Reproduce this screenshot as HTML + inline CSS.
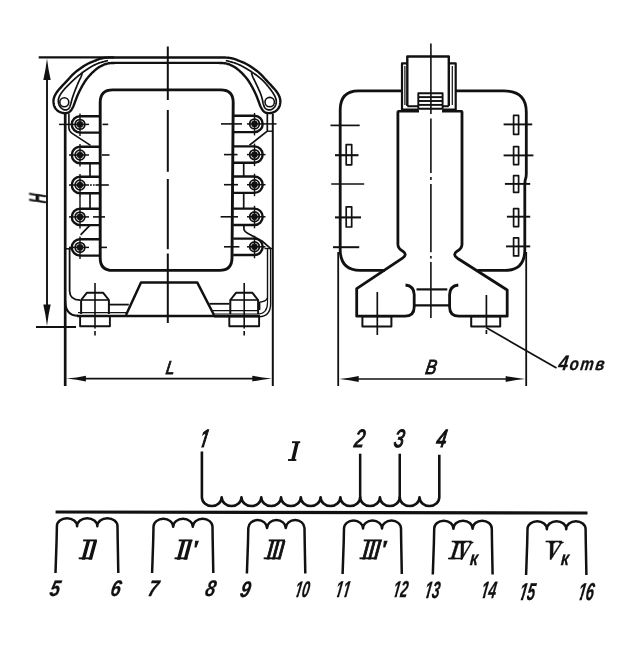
<!DOCTYPE html>
<html lang="ru">
<head>
<meta charset="utf-8">
<title>Трансформатор — габаритный чертёж и схема обмоток</title>
<style>
html,body{margin:0;padding:0;background:#fff;}
body{width:640px;height:645px;overflow:hidden;}
svg{display:block;}
svg text{-webkit-font-smoothing:antialiased;text-rendering:geometricPrecision;}
#txt{opacity:0.999;}
svg line, svg path, svg rect, svg circle{stroke:#111;fill:none;stroke-linecap:butt;stroke-linejoin:round;}
</style>
</head>
<body>
<svg width="640" height="645" viewBox="0 0 640 645">
<rect x="0" y="0" width="640" height="645" style="fill:#fff;stroke:none"/>
<g id="front">
<line x1="167.8" y1="46.5" x2="167.8" y2="100" stroke-width="2.0" />
<line x1="167.8" y1="110" x2="167.8" y2="171.8" stroke-width="2.0" />
<line x1="167.8" y1="179" x2="167.8" y2="249.2" stroke-width="2.0" />
<line x1="167.8" y1="253.5" x2="167.8" y2="323" stroke-width="2.0" />
<line x1="38.7" y1="57.4" x2="114" y2="57.4" stroke-width="2.4" />
<line x1="36" y1="327" x2="76" y2="327" stroke-width="2.0" />
<line x1="47" y1="70" x2="47" y2="314" stroke-width="1.9" />
<path d="M 47,58.4 Q 48.41,70.22 50.7,79.9 L 43.3,79.9 Q 45.59,70.22 47,58.4 Z" style="fill:#111;stroke:none"/>
<path d="M 47,326 Q 45.59,314.18 43.3,304.5 L 50.7,304.5 Q 48.41,314.18 47,326 Z" style="fill:#111;stroke:none"/>
<line x1="65.2" y1="113" x2="65.2" y2="386" stroke-width="2.7" />
<line x1="272.8" y1="113.5" x2="272.8" y2="386" stroke-width="2.0" />
<line x1="80" y1="378.6" x2="258" y2="378.6" stroke-width="1.7" />
<path d="M 66.4,378.6 Q 77.12,377.5 85.9,375.7 L 85.9,381.5 Q 77.12,379.7 66.4,378.6 Z" style="fill:#111;stroke:none"/>
<path d="M 271.8,378.6 Q 261.07,379.7 252.3,381.5 L 252.3,375.7 Q 261.07,377.5 271.8,378.6 Z" style="fill:#111;stroke:none"/>
<path d="M 125,57.5 L 124.13,57.5 L 122.95,57.5 L 121.55,57.49 L 120,57.49 L 118.39,57.49 L 116.8,57.49 L 115.31,57.49 L 114,57.5 L 112.84,57.51 L 111.73,57.52 L 110.67,57.53 L 109.66,57.54 L 108.69,57.56 L 107.75,57.59 L 106.86,57.64 L 106,57.7 L 105.2,57.78 L 104.46,57.87 L 103.78,57.96 L 103.12,58.08 L 102.49,58.2 L 101.85,58.35 L 101.19,58.51 L 100.5,58.7 L 99.78,58.91 L 99.06,59.14 L 98.33,59.4 L 97.6,59.67 L 96.85,59.96 L 96.09,60.26 L 95.31,60.57 L 94.5,60.9 L 93.66,61.24 L 92.8,61.58 L 91.91,61.94 L 91.01,62.31 L 90.1,62.7 L 89.19,63.11 L 88.29,63.54 L 87.4,64 L 86.52,64.48 L 85.64,64.99 L 84.76,65.51 L 83.89,66.06 L 83.01,66.62 L 82.14,67.2 L 81.27,67.79 L 80.4,68.4 L 79.53,69.02 L 78.65,69.65 L 77.77,70.3 L 76.89,70.96 L 76.02,71.64 L 75.17,72.34 L 74.32,73.06 L 73.5,73.8 L 72.69,74.57 L 71.9,75.39 L 71.12,76.23 L 70.36,77.08 L 69.6,77.94 L 68.86,78.79 L 68.12,79.61 L 67.4,80.4 L 66.69,81.15 L 65.99,81.88 L 65.31,82.59 L 64.63,83.29 L 63.96,83.99 L 63.31,84.68 L 62.65,85.38 L 62,86.1 L 61.34,86.83 L 60.67,87.58 L 60,88.33 L 59.34,89.08 L 58.7,89.83 L 58.09,90.57 L 57.52,91.29 L 57,92 L 56.53,92.69 L 56.1,93.36 L 55.7,94.02 L 55.33,94.67 L 55,95.31 L 54.7,95.94 L 54.43,96.57 L 54.2,97.2 L 54,97.81 L 53.83,98.41 L 53.69,99 L 53.59,99.58 L 53.52,100.17 L 53.48,100.76 L 53.47,101.37 L 53.5,102 L 53.56,102.66 L 53.64,103.36 L 53.75,104.07 L 53.9,104.79 L 54.08,105.51 L 54.31,106.21 L 54.58,106.87 L 54.9,107.5 L 55.27,108.1 L 55.7,108.68 L 56.18,109.25 L 56.69,109.8 L 57.24,110.31 L 57.81,110.79 L 58.4,111.22 L 59,111.6 L 59.63,111.93 L 60.29,112.22 L 60.99,112.47 L 61.71,112.67 L 62.43,112.84 L 63.14,112.97 L 63.84,113.05 L 64.5,113.1 L 65.14,113.11 L 65.78,113.09 L 66.41,113.03 L 67.03,112.92 L 67.63,112.78 L 68.21,112.57 L 68.77,112.32 L 69.3,112 L 69.8,111.62 L 70.27,111.17 L 70.72,110.67 L 71.15,110.11 L 71.57,109.51 L 71.97,108.87 L 72.36,108.2 L 72.75,107.5 L 73.13,106.75 L 73.49,105.94 L 73.83,105.09 L 74.17,104.2 L 74.5,103.29 L 74.83,102.38 L 75.16,101.48 L 75.5,100.6 L 75.84,99.74 L 76.17,98.88 L 76.5,98.03 L 76.83,97.17 L 77.17,96.32 L 77.51,95.46 L 77.87,94.61 L 78.25,93.75 L 78.65,92.89 L 79.06,92.02 L 79.48,91.16 L 79.91,90.29 L 80.35,89.43 L 80.8,88.57 L 81.25,87.73 L 81.7,86.9 L 82.16,86.07 L 82.64,85.23 L 83.13,84.39 L 83.63,83.56 L 84.12,82.76 L 84.6,81.99 L 85.06,81.26 L 85.5,80.6 L 85.91,80.01 L 86.28,79.49 L 86.64,79.02 L 86.98,78.58 L 87.33,78.16 L 87.69,77.73 L 88.08,77.29 L 88.5,76.8 L 88.95,76.28 L 89.42,75.74 L 89.91,75.19 L 90.41,74.64 L 90.93,74.08 L 91.47,73.51 L 92.03,72.95 L 92.6,72.4 L 93.2,71.84 L 93.82,71.27 L 94.46,70.69 L 95.11,70.11 L 95.78,69.55 L 96.45,69 L 97.13,68.48 L 97.8,68 L 98.47,67.55 L 99.15,67.12 L 99.84,66.72 L 100.53,66.33 L 101.22,65.97 L 101.92,65.63 L 102.61,65.3 L 103.3,65 L 103.98,64.72 L 104.64,64.45 L 105.29,64.21 L 105.94,63.99 L 106.61,63.79 L 107.31,63.6 L 108.03,63.44 L 108.8,63.3 L 109.61,63.19 L 110.44,63.1 L 111.3,63.04 L 112.18,62.99 L 113.09,62.96 L 114.03,62.94 L 115,62.92 L 116,62.9 L 117.1,62.88 L 118.33,62.87 L 119.64,62.87 L 120.95,62.88 L 122.21,62.88 L 123.34,62.89 L 124.29,62.9 L 125,62.9 M 125,57.5 H 167.8 M 125,62.9 H 167.8" stroke-width="2.4" />
<path d="M 208.8,57.5 L 209.67,57.5 L 210.85,57.5 L 212.25,57.49 L 213.8,57.49 L 215.41,57.49 L 217,57.49 L 218.49,57.49 L 219.8,57.5 L 220.96,57.51 L 222.07,57.52 L 223.13,57.53 L 224.14,57.54 L 225.11,57.56 L 226.05,57.59 L 226.94,57.64 L 227.8,57.7 L 228.6,57.78 L 229.34,57.87 L 230.02,57.96 L 230.68,58.08 L 231.31,58.2 L 231.95,58.35 L 232.61,58.51 L 233.3,58.7 L 234.02,58.91 L 234.74,59.14 L 235.47,59.4 L 236.2,59.67 L 236.95,59.96 L 237.71,60.26 L 238.49,60.57 L 239.3,60.9 L 240.14,61.24 L 241,61.58 L 241.89,61.94 L 242.79,62.31 L 243.7,62.7 L 244.61,63.11 L 245.51,63.54 L 246.4,64 L 247.28,64.48 L 248.16,64.99 L 249.04,65.51 L 249.91,66.06 L 250.79,66.62 L 251.66,67.2 L 252.53,67.79 L 253.4,68.4 L 254.27,69.02 L 255.15,69.65 L 256.03,70.3 L 256.91,70.96 L 257.78,71.64 L 258.63,72.34 L 259.48,73.06 L 260.3,73.8 L 261.11,74.57 L 261.9,75.39 L 262.68,76.23 L 263.44,77.08 L 264.2,77.94 L 264.94,78.79 L 265.68,79.61 L 266.4,80.4 L 267.11,81.15 L 267.81,81.88 L 268.49,82.59 L 269.17,83.29 L 269.84,83.99 L 270.49,84.68 L 271.15,85.38 L 271.8,86.1 L 272.46,86.83 L 273.13,87.58 L 273.8,88.33 L 274.46,89.08 L 275.1,89.83 L 275.71,90.57 L 276.28,91.29 L 276.8,92 L 277.27,92.69 L 277.7,93.36 L 278.1,94.02 L 278.47,94.67 L 278.8,95.31 L 279.1,95.94 L 279.37,96.57 L 279.6,97.2 L 279.8,97.81 L 279.97,98.41 L 280.11,99 L 280.21,99.58 L 280.28,100.17 L 280.32,100.76 L 280.33,101.37 L 280.3,102 L 280.24,102.66 L 280.16,103.36 L 280.05,104.07 L 279.9,104.79 L 279.72,105.51 L 279.49,106.21 L 279.22,106.87 L 278.9,107.5 L 278.53,108.1 L 278.1,108.68 L 277.62,109.25 L 277.11,109.8 L 276.56,110.31 L 275.99,110.79 L 275.4,111.22 L 274.8,111.6 L 274.17,111.93 L 273.51,112.22 L 272.81,112.47 L 272.09,112.67 L 271.37,112.84 L 270.66,112.97 L 269.96,113.05 L 269.3,113.1 L 268.66,113.11 L 268.02,113.09 L 267.39,113.03 L 266.77,112.92 L 266.17,112.78 L 265.59,112.57 L 265.03,112.32 L 264.5,112 L 264,111.62 L 263.53,111.17 L 263.08,110.67 L 262.65,110.11 L 262.23,109.51 L 261.83,108.87 L 261.44,108.2 L 261.05,107.5 L 260.67,106.75 L 260.31,105.94 L 259.97,105.09 L 259.63,104.2 L 259.3,103.29 L 258.97,102.38 L 258.64,101.48 L 258.3,100.6 L 257.96,99.74 L 257.63,98.88 L 257.3,98.03 L 256.97,97.17 L 256.63,96.32 L 256.29,95.46 L 255.93,94.61 L 255.55,93.75 L 255.15,92.89 L 254.74,92.02 L 254.32,91.16 L 253.89,90.29 L 253.45,89.43 L 253,88.57 L 252.55,87.73 L 252.1,86.9 L 251.64,86.07 L 251.16,85.23 L 250.67,84.39 L 250.17,83.56 L 249.68,82.76 L 249.2,81.99 L 248.74,81.26 L 248.3,80.6 L 247.89,80.01 L 247.52,79.49 L 247.16,79.02 L 246.82,78.58 L 246.47,78.16 L 246.11,77.73 L 245.72,77.29 L 245.3,76.8 L 244.85,76.28 L 244.38,75.74 L 243.89,75.19 L 243.39,74.64 L 242.87,74.08 L 242.33,73.51 L 241.77,72.95 L 241.2,72.4 L 240.6,71.84 L 239.98,71.27 L 239.34,70.69 L 238.69,70.11 L 238.02,69.55 L 237.35,69 L 236.67,68.48 L 236,68 L 235.33,67.55 L 234.65,67.12 L 233.96,66.72 L 233.27,66.33 L 232.58,65.97 L 231.88,65.63 L 231.19,65.3 L 230.5,65 L 229.82,64.72 L 229.16,64.45 L 228.51,64.21 L 227.86,63.99 L 227.19,63.79 L 226.49,63.6 L 225.77,63.44 L 225,63.3 L 224.19,63.19 L 223.36,63.1 L 222.5,63.04 L 221.62,62.99 L 220.71,62.96 L 219.77,62.94 L 218.8,62.92 L 217.8,62.9 L 216.7,62.88 L 215.47,62.87 L 214.16,62.87 L 212.85,62.88 L 211.59,62.88 L 210.46,62.89 L 209.51,62.9 L 208.8,62.9 M 208.8,57.5 H 167.8 M 208.8,62.9 H 167.8" stroke-width="2.4" />
<path d="M 108,60.6 L 107.66,60.68 L 107.23,60.78 L 106.72,60.89 L 106.14,61.02 L 105.51,61.17 L 104.85,61.34 L 104.17,61.51 L 103.5,61.7 L 102.81,61.9 L 102.09,62.1 L 101.33,62.32 L 100.55,62.55 L 99.75,62.8 L 98.94,63.07 L 98.12,63.37 L 97.3,63.7 L 96.47,64.06 L 95.61,64.46 L 94.73,64.88 L 93.84,65.32 L 92.96,65.78 L 92.09,66.25 L 91.23,66.72 L 90.4,67.2 L 89.6,67.68 L 88.8,68.18 L 88.03,68.69 L 87.26,69.21 L 86.51,69.74 L 85.76,70.26 L 85.03,70.78 L 84.3,71.3 L 83.58,71.81 L 82.89,72.31 L 82.2,72.8 L 81.52,73.3 L 80.84,73.8 L 80.17,74.32 L 79.49,74.85 L 78.8,75.4 L 78.1,75.97 L 77.4,76.57 L 76.69,77.17 L 75.97,77.79 L 75.27,78.42 L 74.57,79.05 L 73.88,79.68 L 73.2,80.3 L 72.54,80.92 L 71.89,81.54 L 71.24,82.15 L 70.61,82.77 L 69.98,83.4 L 69.35,84.03 L 68.72,84.66 L 68.1,85.3 L 67.47,85.95 L 66.83,86.61 L 66.19,87.27 L 65.55,87.94 L 64.93,88.61 L 64.32,89.28 L 63.74,89.94 L 63.2,90.6 L 62.68,91.26 L 62.18,91.92 L 61.69,92.57 L 61.23,93.23 L 60.8,93.88 L 60.39,94.53 L 60.03,95.17 L 59.7,95.8 L 59.41,96.42 L 59.15,97.03 L 58.92,97.63 L 58.72,98.22 L 58.56,98.82 L 58.43,99.41 L 58.35,100 L 58.3,100.6 L 58.3,101.21 L 58.33,101.83 L 58.41,102.46 L 58.52,103.08 L 58.67,103.7 L 58.85,104.29 L 59.06,104.86 L 59.3,105.4 L 59.58,105.92 L 59.92,106.42 L 60.29,106.92 L 60.69,107.39 L 61.12,107.83 L 61.55,108.23 L 61.98,108.59 L 62.4,108.9 L 62.82,109.16 L 63.26,109.39 L 63.7,109.58 L 64.15,109.73 L 64.6,109.83 L 65.04,109.9 L 65.48,109.92 L 65.9,109.9 L 66.32,109.83 L 66.74,109.72 L 67.15,109.57 L 67.56,109.38 L 67.96,109.14 L 68.33,108.86 L 68.68,108.55 L 69,108.2 L 69.28,107.8 L 69.53,107.34 L 69.76,106.83 L 69.96,106.29 L 70.15,105.73 L 70.34,105.15 L 70.52,104.57 L 70.7,104 L 70.88,103.44 L 71.04,102.87 L 71.19,102.29 L 71.34,101.71 L 71.49,101.11 L 71.65,100.5 L 71.82,99.88 L 72,99.25 L 72.2,98.6 L 72.4,97.94 L 72.61,97.27 L 72.83,96.59 L 73.06,95.89 L 73.3,95.19 L 73.54,94.47 L 73.8,93.75 L 74.07,93.01 L 74.35,92.26 L 74.65,91.49 L 74.95,90.71 L 75.26,89.93 L 75.57,89.15 L 75.89,88.37 L 76.2,87.6 L 76.52,86.83 L 76.84,86.04 L 77.17,85.26 L 77.51,84.47 L 77.84,83.7 L 78.17,82.94 L 78.49,82.2 L 78.8,81.5 L 79.11,80.83 L 79.41,80.18 L 79.72,79.56 L 80.02,78.96 L 80.31,78.36 L 80.59,77.78 L 80.85,77.19 L 81.1,76.6 L 81.34,75.98 L 81.57,75.32 L 81.79,74.65 L 81.99,73.99 L 82.18,73.37 L 82.35,72.82 L 82.49,72.35 L 82.6,72" stroke-width="1.7" />
<path d="M 225.8,60.6 L 226.13,60.68 L 226.56,60.78 L 227.07,60.89 L 227.65,61.02 L 228.28,61.17 L 228.94,61.34 L 229.62,61.51 L 230.3,61.7 L 231,61.9 L 231.75,62.1 L 232.52,62.32 L 233.32,62.55 L 234.15,62.8 L 234.99,63.07 L 235.84,63.37 L 236.7,63.7 L 237.57,64.06 L 238.48,64.46 L 239.4,64.88 L 240.33,65.32 L 241.27,65.78 L 242.2,66.25 L 243.11,66.72 L 244,67.2 L 244.87,67.68 L 245.73,68.18 L 246.57,68.68 L 247.41,69.2 L 248.24,69.72 L 249.07,70.25 L 249.89,70.77 L 250.7,71.3 L 251.51,71.83 L 252.32,72.35 L 253.12,72.88 L 253.92,73.41 L 254.71,73.95 L 255.48,74.49 L 256.25,75.04 L 257,75.6 L 257.74,76.16 L 258.47,76.73 L 259.19,77.31 L 259.89,77.89 L 260.59,78.48 L 261.27,79.07 L 261.94,79.68 L 262.6,80.3 L 263.24,80.93 L 263.87,81.58 L 264.48,82.23 L 265.08,82.89 L 265.66,83.56 L 266.25,84.24 L 266.82,84.92 L 267.4,85.6 L 267.98,86.29 L 268.56,86.98 L 269.13,87.69 L 269.7,88.39 L 270.26,89.1 L 270.79,89.81 L 271.31,90.51 L 271.8,91.2 L 272.27,91.89 L 272.73,92.58 L 273.17,93.26 L 273.59,93.94 L 273.99,94.62 L 274.36,95.29 L 274.7,95.95 L 275,96.6 L 275.27,97.24 L 275.51,97.87 L 275.73,98.49 L 275.92,99.11 L 276.07,99.71 L 276.19,100.31 L 276.27,100.91 L 276.3,101.5 L 276.29,102.09 L 276.24,102.68 L 276.16,103.27 L 276.03,103.86 L 275.87,104.43 L 275.68,104.98 L 275.45,105.5 L 275.2,106 L 274.9,106.48 L 274.56,106.95 L 274.18,107.41 L 273.76,107.84 L 273.33,108.25 L 272.88,108.61 L 272.44,108.93 L 272,109.2 L 271.56,109.42 L 271.1,109.59 L 270.63,109.72 L 270.16,109.81 L 269.68,109.87 L 269.21,109.88 L 268.75,109.86 L 268.3,109.8 L 267.86,109.7 L 267.41,109.57 L 266.96,109.4 L 266.52,109.19 L 266.1,108.94 L 265.7,108.66 L 265.33,108.35 L 265,108 L 264.71,107.61 L 264.45,107.17 L 264.21,106.69 L 264.01,106.18 L 263.82,105.65 L 263.64,105.1 L 263.47,104.55 L 263.3,104 L 263.15,103.45 L 263.02,102.88 L 262.9,102.31 L 262.8,101.72 L 262.7,101.12 L 262.58,100.51 L 262.45,99.88 L 262.3,99.25 L 262.13,98.6 L 261.95,97.95 L 261.76,97.28 L 261.56,96.6 L 261.35,95.91 L 261.12,95.2 L 260.87,94.48 L 260.6,93.75 L 260.3,92.99 L 259.98,92.21 L 259.63,91.41 L 259.27,90.6 L 258.9,89.79 L 258.53,88.98 L 258.16,88.18 L 257.8,87.4 L 257.45,86.63 L 257.09,85.87 L 256.73,85.11 L 256.37,84.36 L 256.01,83.62 L 255.66,82.89 L 255.33,82.19 L 255,81.5 L 254.68,80.83 L 254.37,80.19 L 254.06,79.56 L 253.76,78.94 L 253.47,78.34 L 253.19,77.75 L 252.94,77.17 L 252.7,76.6 L 252.48,76.01 L 252.27,75.4 L 252.08,74.79 L 251.91,74.19 L 251.75,73.64 L 251.61,73.14 L 251.49,72.72 L 251.4,72.4" stroke-width="1.7" />
<circle cx="64.3" cy="102.2" r="4.5" stroke-width="1.6" />
<circle cx="269.7" cy="102.1" r="4.7" stroke-width="1.6" />
<path d="M 68.9,113.5 V 128 Q 69.2,131.6 72.5,133.6 L 90.5,145.4" stroke-width="1.6" />
<path d="M 69.6,248.8 V 291 Q 69.8,300 80,300.2" stroke-width="1.8" />
<line x1="66" y1="248.8" x2="72" y2="248.8" stroke-width="1.5" />
<path d="M 65.2,301 Q 65.4,315.6 78,315.8" stroke-width="2.0" />
<line x1="78" y1="312.6" x2="126" y2="312.6" stroke-width="1.1" />
<line x1="109" y1="304.6" x2="128.8" y2="304.6" stroke-width="1.8" />
<path d="M 267.3,113.5 V 131.2 L 249.5,145.2" stroke-width="1.7" />
<line x1="267.3" y1="131.2" x2="273" y2="131.2" stroke-width="1.4" />
<path d="M 267.5,248.5 V 299" stroke-width="1.4" />
<path d="M 270.6,248.5 V 304 Q 270.4,316.6 259,316.8 H 214" stroke-width="1.4" />
<path d="M 267.5,299 V 303 Q 267.3,313.8 258,314 H 214" stroke-width="1.2" />
<path d="M 267.5,298 Q 266,301.6 259.7,302.2 V 310" stroke-width="1.4" />
<line x1="264.5" y1="248.5" x2="272.8" y2="248.5" stroke-width="1.4" />
<line x1="209.4" y1="303.8" x2="229.5" y2="303.8" stroke-width="1.8" />
<line x1="213" y1="310.6" x2="258" y2="310.6" stroke-width="1.3" />
<path d="M 112.7,89.9 H 220.7 Q 233.2,89.9 233.2,102.4 L 232.0,258 Q 231.9,270.4 219.5,270.4 H 112.7 Q 100.2,270.4 100.2,257.9 V 102.4 Q 100.2,89.9 112.7,89.9 Z" stroke-width="2.9" />
<line x1="77" y1="315.9" x2="260" y2="315.9" stroke-width="2.5" />
<path d="M 126,315 L 141,282.4 H 197.2 L 214,315" stroke-width="2.5" />
<path d="M 100.2,116.2 H 80 A 8.2,8.2 0 0 0 80,132.6 H 100.2" stroke-width="2.4" />
<circle cx="80" cy="124.4" r="4.8" stroke-width="1.8" />
<circle cx="80" cy="124.4" r="3.1" stroke-width="0.5" style="fill:#111"/>
<line x1="80" y1="113.4" x2="80" y2="135.9" stroke-width="1.4" />
<line x1="59" y1="124.4" x2="89" y2="124.4" stroke-width="1.5" />
<line x1="102.5" y1="124.4" x2="108.2" y2="124.4" stroke-width="1.6" />
<path d="M 233.2,115.7 H 254.5 A 8.2,8.2 0 0 1 254.5,132.1 H 233.2" stroke-width="2.4" />
<circle cx="254.5" cy="123.9" r="4.8" stroke-width="1.8" />
<circle cx="254.5" cy="123.9" r="3.1" stroke-width="0.5" style="fill:#111"/>
<line x1="254.5" y1="112.9" x2="254.5" y2="135.4" stroke-width="1.4" />
<line x1="276.5" y1="123.9" x2="247" y2="123.9" stroke-width="1.5" />
<line x1="221" y1="123.9" x2="242" y2="123.9" stroke-width="1.6" />
<path d="M 100.2,146.8 H 80 A 8.2,8.2 0 0 0 80,163.2 H 100.2" stroke-width="2.4" />
<circle cx="80" cy="155" r="4.8" stroke-width="1.8" />
<circle cx="80" cy="155" r="3.1" stroke-width="0.5" style="fill:#111"/>
<line x1="80" y1="144" x2="80" y2="166.5" stroke-width="1.4" />
<line x1="69" y1="155" x2="89" y2="155" stroke-width="1.5" />
<line x1="102" y1="155" x2="109.5" y2="155" stroke-width="1.6" />
<path d="M 233.2,146.4 H 254.5 A 8.2,8.2 0 0 1 254.5,162.8 H 233.2" stroke-width="2.4" />
<circle cx="254.5" cy="154.6" r="4.8" stroke-width="1.8" />
<circle cx="254.5" cy="154.6" r="3.1" stroke-width="0.5" style="fill:#111"/>
<line x1="254.5" y1="143.6" x2="254.5" y2="166.1" stroke-width="1.4" />
<line x1="265.5" y1="154.6" x2="247" y2="154.6" stroke-width="1.5" />
<line x1="224" y1="154.6" x2="237.5" y2="154.6" stroke-width="1.6" />
<path d="M 100.2,176.8 H 80 A 8.2,8.2 0 0 0 80,193.2 H 100.2" stroke-width="2.4" />
<circle cx="80" cy="185" r="4.8" stroke-width="1.8" />
<circle cx="80" cy="185" r="3.1" stroke-width="0.5" style="fill:#111"/>
<line x1="80" y1="174" x2="80" y2="196.5" stroke-width="1.4" />
<line x1="69" y1="185" x2="89" y2="185" stroke-width="1.5" />
<line x1="90" y1="185" x2="91.8" y2="185" stroke-width="1.4" />
<line x1="93" y1="185" x2="94.6" y2="185" stroke-width="1.4" />
<line x1="95.5" y1="185" x2="108.8" y2="185" stroke-width="1.6" />
<path d="M 233.2,176.5 H 254.5 A 8.2,8.2 0 0 1 254.5,192.9 H 233.2" stroke-width="2.4" />
<circle cx="254.5" cy="184.7" r="4.8" stroke-width="1.8" />
<circle cx="254.5" cy="184.7" r="3.1" stroke-width="0.5" style="fill:#111"/>
<line x1="254.5" y1="173.7" x2="254.5" y2="196.2" stroke-width="1.4" />
<line x1="265.5" y1="184.7" x2="247" y2="184.7" stroke-width="1.5" />
<line x1="224" y1="184.7" x2="238" y2="184.7" stroke-width="1.6" />
<path d="M 100.2,208.7 H 80 A 8.2,8.2 0 0 0 80,225.1 H 100.2" stroke-width="2.4" />
<circle cx="80" cy="216.9" r="4.8" stroke-width="1.8" />
<circle cx="80" cy="216.9" r="3.1" stroke-width="0.5" style="fill:#111"/>
<line x1="80" y1="205.9" x2="80" y2="228.4" stroke-width="1.4" />
<line x1="69" y1="216.9" x2="89" y2="216.9" stroke-width="1.5" />
<line x1="93" y1="216.9" x2="105" y2="216.9" stroke-width="1.6" />
<path d="M 233.2,208.6 H 254.5 A 8.2,8.2 0 0 1 254.5,225 H 233.2" stroke-width="2.4" />
<circle cx="254.5" cy="216.8" r="4.8" stroke-width="1.8" />
<circle cx="254.5" cy="216.8" r="3.1" stroke-width="0.5" style="fill:#111"/>
<line x1="254.5" y1="205.8" x2="254.5" y2="228.3" stroke-width="1.4" />
<line x1="265.5" y1="216.8" x2="247" y2="216.8" stroke-width="1.5" />
<line x1="220.6" y1="216.8" x2="238" y2="216.8" stroke-width="1.6" />
<path d="M 100.2,239.2 H 80 A 8.2,8.2 0 0 0 80,255.6 H 100.2" stroke-width="2.4" />
<circle cx="80" cy="247.4" r="4.8" stroke-width="1.8" />
<circle cx="80" cy="247.4" r="3.1" stroke-width="0.5" style="fill:#111"/>
<line x1="80" y1="236.4" x2="80" y2="258.9" stroke-width="1.4" />
<line x1="69" y1="247.4" x2="89" y2="247.4" stroke-width="1.5" />
<line x1="99" y1="247.4" x2="107" y2="247.4" stroke-width="1.6" />
<path d="M 233.2,238.6 H 254.5 A 8.2,8.2 0 0 1 254.5,255 H 233.2" stroke-width="2.4" />
<circle cx="254.5" cy="246.8" r="4.8" stroke-width="1.8" />
<circle cx="254.5" cy="246.8" r="3.1" stroke-width="0.5" style="fill:#111"/>
<line x1="254.5" y1="235.8" x2="254.5" y2="258.3" stroke-width="1.4" />
<line x1="265.5" y1="246.8" x2="247" y2="246.8" stroke-width="1.5" />
<line x1="224" y1="246.8" x2="239.4" y2="246.8" stroke-width="1.6" />
<line x1="90" y1="163.2" x2="90" y2="176.8" stroke-width="1.7" />
<line x1="243.7" y1="162.8" x2="243.7" y2="176.5" stroke-width="1.7" />
<line x1="90" y1="193.2" x2="90" y2="208.7" stroke-width="1.7" />
<line x1="243.7" y1="192.9" x2="243.7" y2="208.6" stroke-width="1.7" />
<line x1="80" y1="195.5" x2="80" y2="206" stroke-width="1.4" />
<line x1="80.6" y1="234.8" x2="89.8" y2="225.4" stroke-width="1.7" />
<path d="M 243.9,225 V 229 Q 244.2,231.5 248,233.5 L 262,241 L 270.5,248.3" stroke-width="1.7" />
<path d="M 81.1,314 V 300 L 86.8,292.8 H 103.2 L 108.9,300 V 314" stroke-width="2.0" />
<line x1="81.1" y1="300" x2="108.9" y2="300" stroke-width="1.6" />
<rect x="80.1" y="316" width="29.8" height="10.2" stroke-width="1.9" />
<line x1="95" y1="283" x2="95" y2="328.5" stroke-width="1.6" />
<line x1="95" y1="331" x2="95" y2="335.5" stroke-width="1.6" />
<path d="M 230.3,314 V 300 L 236,292.8 H 252.4 L 258.1,300 V 314" stroke-width="2.0" />
<line x1="230.3" y1="300" x2="258.1" y2="300" stroke-width="1.6" />
<rect x="229.3" y="316" width="29.8" height="10.2" stroke-width="1.9" />
<line x1="244.2" y1="283" x2="244.2" y2="328.5" stroke-width="1.6" />
<line x1="244.2" y1="331" x2="244.2" y2="335.5" stroke-width="1.6" />
</g>
<g id="side">
<line x1="430.9" y1="43.5" x2="430.9" y2="114" stroke-width="1.6" />
<line x1="430.9" y1="118.5" x2="430.9" y2="173" stroke-width="1.6" />
<line x1="430.9" y1="177" x2="430.9" y2="180" stroke-width="1.6" />
<line x1="430.9" y1="184" x2="430.9" y2="252.3" stroke-width="1.6" />
<line x1="430.9" y1="256" x2="430.9" y2="258.5" stroke-width="1.6" />
<line x1="430.9" y1="262" x2="430.9" y2="318" stroke-width="1.6" />
<path d="M 402,90.9 H 358.5 Q 340.2,91 340.2,110 V 250 Q 340.5,270.2 360,270.4 H 385" stroke-width="2.8" />
<path d="M 455.6,90.9 H 504 Q 526.3,91 526.3,112 V 174 Q 526.2,178 525.2,180 L 524.8,184 V 250 Q 524.6,270.2 505.5,270.4 H 477.5" stroke-width="2.8" />
<line x1="338.2" y1="252" x2="338.2" y2="386" stroke-width="1.8" />
<line x1="526.2" y1="252" x2="526.2" y2="386" stroke-width="1.8" />
<line x1="352" y1="379" x2="512" y2="379" stroke-width="1.7" />
<path d="M 339.2,379 Q 349.93,377.9 358.7,376.1 L 358.7,381.9 Q 349.93,380.1 339.2,379 Z" style="fill:#111;stroke:none"/>
<path d="M 525.2,379 Q 514.48,380.1 505.7,381.9 L 505.7,376.1 Q 514.48,377.9 525.2,379 Z" style="fill:#111;stroke:none"/>
<path d="M 407.3,106 V 56.5 H 448.8 V 106" stroke-width="2.4" />
<path d="M 407.3,63.4 H 402 V 110.5" stroke-width="2.2" />
<path d="M 448.8,63.4 H 455.7 V 110.5" stroke-width="2.2" />
<line x1="404.9" y1="66" x2="404.9" y2="105" stroke-width="1.2" />
<line x1="452.3" y1="66" x2="452.3" y2="105" stroke-width="1.2" />
<path d="M 402,109.6 H 418.3 M 407.3,106.2 H 418.3" stroke-width="2.0" />
<path d="M 455.7,109.6 H 442.6 M 448.8,106.2 H 442.6" stroke-width="2.0" />
<rect x="418.3" y="93.2" width="24.3" height="15.6" stroke-width="1.9" />
<line x1="418.3" y1="97.1" x2="442.6" y2="97.1" stroke-width="1.9" />
<line x1="418.3" y1="101" x2="442.6" y2="101" stroke-width="1.9" />
<line x1="418.3" y1="104.9" x2="442.6" y2="104.9" stroke-width="1.9" />
<path d="M 397.4,111.2 H 419 M 442,111.2 H 462.6" stroke-width="2.4" />
<path d="M 397.9,111.2 V 244.5 Q 398,248.5 402.8,251.2 Q 407.8,254.6 402.5,258.2 L 356.7,288.6 V 316.2 H 405 Q 414.2,316 414.2,307 V 294.5 Q 414,286 405.5,285" stroke-width="2.8" />
<path d="M 462.0,111.2 V 244.5 Q 461.9,248.5 457.1,251.2 Q 452.1,254.6 457.4,258.2 L 507.2,290 V 316.2 H 458.8 Q 449.6,316 449.6,307 V 294.5 Q 449.8,286 458.3,285" stroke-width="2.8" />
<line x1="416.5" y1="289.4" x2="447.3" y2="289.4" stroke-width="2.2" />
<line x1="414.2" y1="305.4" x2="449.6" y2="305.4" stroke-width="2.2" />
<rect x="362.4" y="316.2" width="29" height="10.2" stroke-width="2.0" />
<rect x="471.2" y="316.2" width="29" height="10.2" stroke-width="2.0" />
<line x1="377.3" y1="292" x2="377.3" y2="335" stroke-width="1.7" />
<line x1="486.4" y1="295" x2="486.4" y2="327" stroke-width="1.7" />
<line x1="486.4" y1="330" x2="486.4" y2="334" stroke-width="1.7" />
<line x1="486" y1="327.6" x2="556.5" y2="368" stroke-width="1.7" />
<line x1="330.5" y1="125.4" x2="359.7" y2="125.4" stroke-width="1.7" />
<line x1="335" y1="155.2" x2="358.5" y2="155.2" stroke-width="2.1" />
<rect x="346.2" y="144.6" width="5.5" height="20.2" stroke-width="1.7" />
<line x1="331.2" y1="184" x2="364.2" y2="184" stroke-width="1.7" />
<line x1="335" y1="217.4" x2="361" y2="217.4" stroke-width="2.1" />
<rect x="346.2" y="206.8" width="5.5" height="20.2" stroke-width="1.7" />
<line x1="333" y1="247.2" x2="359.2" y2="247.2" stroke-width="2.0" />
<line x1="503.6" y1="124.4" x2="532.2" y2="124.4" stroke-width="1.9" />
<rect x="513.6" y="115.4" width="5" height="18.9" stroke-width="1.7" />
<line x1="503.6" y1="155.4" x2="533.4" y2="155.4" stroke-width="1.9" />
<rect x="513.6" y="146.7" width="5" height="17.9" stroke-width="1.7" />
<line x1="504.9" y1="183.9" x2="530.2" y2="183.9" stroke-width="1.9" />
<rect x="513.6" y="175.7" width="5" height="16.6" stroke-width="1.7" />
<line x1="506.9" y1="216.7" x2="530.2" y2="216.7" stroke-width="1.9" />
<rect x="513.6" y="208.7" width="5" height="17.9" stroke-width="1.7" />
<line x1="506" y1="246.4" x2="530.2" y2="246.4" stroke-width="1.9" />
<rect x="513.6" y="237.8" width="5" height="18.1" stroke-width="1.7" />
</g>
<g id="schem">
<line x1="55.6" y1="512" x2="587.5" y2="513" stroke-width="3.2" />
<path d="M 201.9,451.5 V 497.2 a 9.892,8.9 0 0 0 19.783,0 a 9.892,8.9 0 0 0 19.783,0 a 9.892,8.9 0 0 0 19.783,0 a 9.892,8.9 0 0 0 19.783,0 a 9.892,8.9 0 0 0 19.783,0 a 9.892,8.9 0 0 0 19.783,0 a 9.892,8.9 0 0 0 19.783,0 a 9.892,8.9 0 0 0 19.783,0 a 9.892,8.9 0 0 0 19.783,0 a 9.892,8.9 0 0 0 19.783,0 a 9.892,8.9 0 0 0 19.783,0 a 9.892,8.9 0 0 0 19.783,0 V 454.7" stroke-width="2.6" />
<line x1="360.17" y1="453.7" x2="360.17" y2="498" stroke-width="2.5" />
<line x1="399.73" y1="453.7" x2="399.73" y2="498" stroke-width="2.5" />
<path d="M 55.5,573 L 56.6,540.2 L 56.9,526.2 a 10.100,8.0 0 0 1 20.200,0 a 10.100,8.0 0 0 1 20.200,0 a 10.100,8.0 0 0 1 20.200,0 L 117.7,540.2 L 118.3,573" stroke-width="2.5" />
<path d="M 152.1,573 L 153.2,540.8 L 153.5,526.8 a 9.833,8.0 0 0 1 19.667,0 a 9.833,8.0 0 0 1 19.667,0 a 9.833,8.0 0 0 1 19.667,0 L 212.7,540.8 L 213.3,573" stroke-width="2.5" />
<path d="M 246.9,573.5 L 248,542 L 248.3,528 a 9.367,8.0 0 0 1 18.733,0 a 9.367,8.0 0 0 1 18.733,0 a 9.367,8.0 0 0 1 18.733,0 L 304.7,542 L 305.3,573.5" stroke-width="2.5" />
<path d="M 342.6,574 L 343.7,542.5 L 344,528.5 a 9.500,8.0 0 0 1 19.000,0 a 9.500,8.0 0 0 1 19.000,0 a 9.500,8.0 0 0 1 19.000,0 L 401.2,542.5 L 401.8,574" stroke-width="2.5" />
<path d="M 432.8,574.5 L 433.9,542.7 L 434.2,528.7 a 9.600,8.0 0 0 1 19.200,0 a 9.600,8.0 0 0 1 19.200,0 a 9.600,8.0 0 0 1 19.200,0 L 492,542.7 L 492.6,574.5" stroke-width="2.5" />
<path d="M 526.1,575 L 527.2,543.2 L 527.5,529.2 a 9.683,8.0 0 0 1 19.367,0 a 9.683,8.0 0 0 1 19.367,0 a 9.683,8.0 0 0 1 19.367,0 L 585.8,543.2 L 586.4,575" stroke-width="2.5" />
</g>
<g id="txt">
<g style="fill:#111;stroke:#111" stroke-width="0.25" font-weight="bold" font-family="'Liberation Sans', sans-serif" font-style="italic" text-anchor="middle">
<g transform="translate(53.8 596) scale(0.8 1) skewX(-15)">
<text x="-6.26" y="0" font-size="22.5" text-anchor="start">5</text>
</g>
<g transform="translate(114.4 596) scale(0.8 1) skewX(-15)">
<text x="-6.26" y="0" font-size="22.5" text-anchor="start">6</text>
</g>
<g transform="translate(151.9 596) scale(0.8 1) skewX(-15)">
<text x="-6.26" y="0" font-size="22.5" text-anchor="start">7</text>
</g>
<g transform="translate(209.2 596.2) scale(0.8 1) skewX(-15)">
<text x="-6.26" y="0" font-size="22.5" text-anchor="start">8</text>
</g>
<g transform="translate(243.9 596.5) scale(0.8 1) skewX(-15)">
<text x="-6.26" y="0" font-size="22.5" text-anchor="start">9</text>
</g>
<g transform="translate(301.2 596.6) scale(0.6 1) skewX(-15)">
<text x="-12.21 -0.3" y="0" font-size="22.5" text-anchor="start">10</text>
<polygon points="-13.34,1.35 -8.59,1.35 -7.67,-3.26 -12.89,-3.26" style="fill:#fff;stroke:none"/>
<polygon points="-4.99,1.35 -0.29,1.35 0.39,-3.26 -4.07,-3.26" style="fill:#fff;stroke:none"/>
</g>
<g transform="translate(341.9 597) scale(0.6 1) skewX(-15)">
<text x="-12.49 -0.3" y="0" font-size="23" text-anchor="start">11</text>
<polygon points="-13.64,1.38 -8.79,1.38 -7.85,-3.33 -13.18,-3.33" style="fill:#fff;stroke:none"/>
<polygon points="-5.11,1.38 -0.3,1.38 0.39,-3.33 -4.17,-3.33" style="fill:#fff;stroke:none"/>
<polygon points="-1.45,1.38 3.4,1.38 4.35,-3.33 -0.99,-3.33" style="fill:#fff;stroke:none"/>
<polygon points="7.08,1.38 11.89,1.38 12.58,-3.33 8.03,-3.33" style="fill:#fff;stroke:none"/>
</g>
<g transform="translate(399.5 597.2) scale(0.6 1) skewX(-15)">
<text x="-12.49 -0.3" y="0" font-size="23" text-anchor="start">12</text>
<polygon points="-13.64,1.38 -8.79,1.38 -7.85,-3.33 -13.18,-3.33" style="fill:#fff;stroke:none"/>
<polygon points="-5.11,1.38 -0.3,1.38 0.39,-3.33 -4.17,-3.33" style="fill:#fff;stroke:none"/>
</g>
<g transform="translate(431.2 598) scale(0.6 1) skewX(-15)">
<text x="-12.77 -0.3" y="0" font-size="23.5" text-anchor="start">13</text>
<polygon points="-13.94,1.41 -8.99,1.41 -8.02,-3.41 -13.47,-3.41" style="fill:#fff;stroke:none"/>
<polygon points="-5.23,1.41 -0.31,1.41 0.39,-3.41 -4.26,-3.41" style="fill:#fff;stroke:none"/>
</g>
<g transform="translate(487.7 598.4) scale(0.6 1) skewX(-15)">
<text x="-12.77 -0.3" y="0" font-size="23.5" text-anchor="start">14</text>
<polygon points="-13.94,1.41 -8.99,1.41 -8.02,-3.41 -13.47,-3.41" style="fill:#fff;stroke:none"/>
<polygon points="-5.23,1.41 -0.31,1.41 0.39,-3.41 -4.26,-3.41" style="fill:#fff;stroke:none"/>
</g>
<g transform="translate(526.2 599.6) scale(0.6 1) skewX(-15)">
<text x="-13.33 -0.3" y="0" font-size="24.5" text-anchor="start">15</text>
<polygon points="-14.55,1.47 -9.38,1.47 -8.38,-3.55 -14.06,-3.55" style="fill:#fff;stroke:none"/>
<polygon points="-5.46,1.47 -0.34,1.47 0.39,-3.55 -4.46,-3.55" style="fill:#fff;stroke:none"/>
</g>
<g transform="translate(584.9 599.6) scale(0.6 1) skewX(-15)">
<text x="-13.33 -0.3" y="0" font-size="24.5" text-anchor="start">16</text>
<polygon points="-14.55,1.47 -9.38,1.47 -8.38,-3.55 -14.06,-3.55" style="fill:#fff;stroke:none"/>
<polygon points="-5.46,1.47 -0.34,1.47 0.39,-3.55 -4.46,-3.55" style="fill:#fff;stroke:none"/>
</g>
</g>
<g style="fill:#111;stroke:#111" stroke-width="1.2" font-family="'Liberation Sans', sans-serif" font-style="italic" text-anchor="middle">
<g transform="translate(203.2 447) scale(0.72 1) skewX(-13)">
<text x="-6.95" y="0" font-size="25" text-anchor="start">1</text>
<polygon points="-8.2,1.5 -2.98,1.5 -2.05,-3.12 -7.7,-3.12" style="fill:#fff;stroke:none"/>
<polygon points="0.7,1.5 6.3,1.5 7.05,-3.12 1.62,-3.12" style="fill:#fff;stroke:none"/>
</g>
<g transform="translate(358.4 447) scale(0.72 1) skewX(-13)">
<text x="-6.95" y="0" font-size="25" text-anchor="start">2</text>
</g>
<g transform="translate(398.1 447) scale(0.72 1) skewX(-13)">
<text x="-6.95" y="0" font-size="25" text-anchor="start">3</text>
</g>
<g transform="translate(440.4 447) scale(0.72 1) skewX(-13)">
<text x="-6.95" y="0" font-size="25" text-anchor="start">4</text>
</g>
</g>
<g style="fill:#111;stroke:#111" stroke-width="0.25" font-weight="bold" font-family="'Liberation Sans', sans-serif" font-style="italic" text-anchor="middle">
</g>
<g style="fill:#111;stroke:#111" stroke-width="0.9" font-family="'Liberation Sans', sans-serif" font-style="italic" text-anchor="middle">
<text transform="translate(169.6 373.8) scale(0.85 1) skewX(-10)" font-size="18.5" >L</text>
<text transform="translate(430.3 374.2) scale(0.8 1) skewX(-12)" font-size="20.5" >B</text>
<text transform="translate(45.6 198.6) rotate(-90) scale(0.56 1) skewX(-4)" font-size="23" stroke-width="1.5">H</text>
</g>
<g style="fill:#111;stroke:#111" stroke-width="0.25" font-weight="bold" font-family="'Liberation Sans', sans-serif" font-style="italic" text-anchor="middle">
<text transform="translate(581.5 370) scale(0.84 1) skewX(-9)" font-size="18" letter-spacing="1.8"><tspan font-size="21">4</tspan>отв</text>
<text transform="translate(473.5 565) scale(0.8 1) skewX(-6)" font-size="20" >к</text>
<text transform="translate(564.5 564.6) scale(0.8 1) skewX(-6)" font-size="20" >к</text>
</g>
<g style="fill:#111;stroke:#111" stroke-width="1.1" font-family="'Liberation Sans', sans-serif" font-style="italic" text-anchor="middle">
<text transform="translate(88.4 558.6) scale(0.9 1) skewX(-6)" font-size="25.5" letter-spacing="0.6" stroke-width="1.5">II</text>
<text transform="translate(183.6 558.6) scale(0.9 1) skewX(-6)" font-size="25.5" letter-spacing="0.6" stroke-width="1.5">II</text>
<text transform="translate(274.4 558.6) scale(0.9 1) skewX(-6)" font-size="25.5" letter-spacing="-0.8" stroke-width="0.9">III</text>
<text transform="translate(370.3 558.6) scale(0.9 1) skewX(-6)" font-size="25.5" letter-spacing="-0.8" stroke-width="0.9">III</text>
<text transform="translate(294.1 460) scale(0.9 1) skewX(-4)" font-size="25" stroke-width="1.6">I</text>
</g>
<g style="fill:#111;stroke:#111" stroke-width="0.5" font-weight="bold" font-family="'Liberation Serif', serif" font-style="italic" text-anchor="middle">
<text transform="translate(458.6 558.6) scale(0.74 1) skewX(-14)" font-size="26" letter-spacing="-1.5">IV</text>
<text transform="translate(551.8 558.6) scale(0.8 1) skewX(-14)" font-size="26" >V</text>
<text transform="translate(196.3 556.5) scale(0.9 1)" font-size="24" stroke-width="1.1">′</text>
<text transform="translate(385 556.5) scale(0.9 1)" font-size="24" stroke-width="1.1">′</text>
</g>
</g>
<line x1="83.1" y1="540.4" x2="96.9" y2="540.4" stroke-width="1.9" />
<line x1="78.7" y1="558.3" x2="91.9" y2="558.3" stroke-width="1.9" />
<line x1="178.7" y1="540.4" x2="192.5" y2="540.4" stroke-width="1.9" />
<line x1="174.5" y1="558.3" x2="187.5" y2="558.3" stroke-width="1.9" />
<line x1="268.7" y1="540.4" x2="285" y2="540.4" stroke-width="1.9" />
<line x1="263.7" y1="558.3" x2="280" y2="558.3" stroke-width="1.9" />
<line x1="363.7" y1="540.4" x2="382" y2="540.4" stroke-width="1.9" />
<line x1="359.5" y1="558.3" x2="376.4" y2="558.3" stroke-width="1.9" />
<line x1="451.7" y1="541.5" x2="471.6" y2="541.5" stroke-width="1.6" />
<line x1="448" y1="558.5" x2="463" y2="558.5" stroke-width="1.5" />
<line x1="545.6" y1="541.5" x2="561.9" y2="541.5" stroke-width="1.6" />
<line x1="292" y1="442.2" x2="300.2" y2="442.2" stroke-width="1.9" />
<line x1="288" y1="460" x2="296.3" y2="460" stroke-width="1.9" />
</svg>
</body>
</html>
